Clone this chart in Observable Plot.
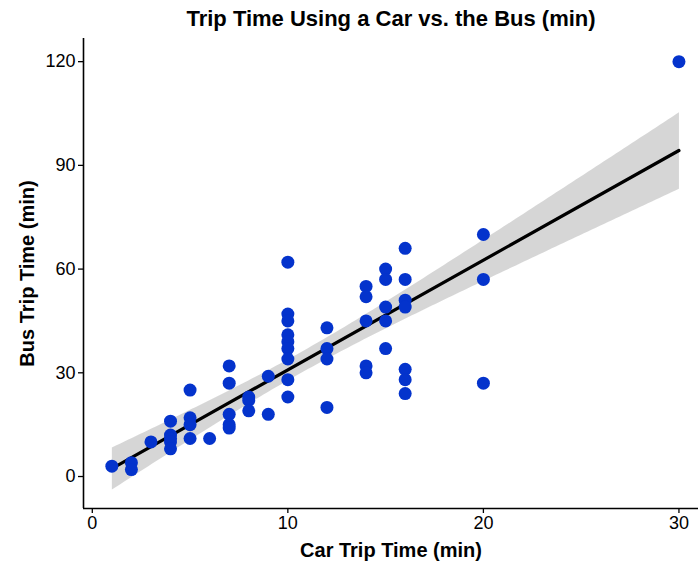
<!DOCTYPE html>
<html>
<head>
<meta charset="utf-8">
<script src="https://cdn.jsdelivr.net/npm/d3@7"></script>
<script src="https://cdn.jsdelivr.net/npm/@observablehq/plot@0.6"></script>
<style>
  html, body { margin: 0; padding: 0; background: #fff; }
  svg { display: block; }
</style>
</head>
<body>
<div id="chart"></div>
<script>
const carTime = [
  1,
  2, 2,
  3,
  4, 4, 4, 4, 4,
  5, 5, 5, 5,
  6,
  7, 7, 7, 7, 7,
  8, 8, 8,
  9, 9,
  10, 10, 10, 10, 10, 10, 10, 10, 10,
  12, 12, 12, 12,
  14, 14, 14, 14, 14,
  15, 15, 15, 15, 15,
  16, 16, 16, 16, 16, 16, 16,
  20, 20, 20,
  30
];
const busTime = [
  3,
  4, 2,
  10,
  16, 12, 11, 10, 8,
  25, 17, 15, 11,
  11,
  32, 27, 18, 15, 14,
  23, 22, 19,
  29, 18,
  62, 47, 45, 41, 39, 37, 34, 28, 23,
  43, 37, 34, 20,
  55, 52, 45, 32, 30,
  60, 57, 49, 45, 37,
  66, 57, 51, 49, 31, 28, 24,
  70, 57, 27,
  120
];
const xTicks = [0, 10, 20, 30];
const yTicks = [0, 30, 60, 90, 120];
const titleText = "Trip Time Using a Car vs. the Bus (min)";
const xLabel = "Car Trip Time (min)";
const yLabel = "Bus Trip Time (min)";

const data = carTime.map((c, i) => ({car: c, bus: busTime[i]}));

const xDomain = [-0.45, 31.0];
const yDomain = [-9.25, 126.7];

const chart = Plot.plot({
  width: 698,
  height: 562,
  marginTop: 38,
  marginBottom: 54,
  marginLeft: 83,
  marginRight: 0,
  style: {fontFamily: "'Liberation Sans', Arial, Helvetica, sans-serif", background: "#fff"},
  x: {domain: xDomain},
  y: {domain: yDomain},
  marks: [
    Plot.linearRegressionY(data, {
      x: "car", y: "bus",
      ci: 0.95,
      stroke: "black",
      strokeWidth: 3.2,
      fill: "#999999",
      fillOpacity: 0.4
    }),
    Plot.dot(data, {x: "car", y: "bus", r: 6.5, fill: "#0433cc", stroke: "none"}),
    Plot.axisX({ticks: xTicks, tickSize: 5, tickPadding: 3, fontSize: 18, label: null, stroke: "black", strokeWidth: 1.3, color: "black"}),
    Plot.axisY({ticks: yTicks, tickSize: 5, tickPadding: 3, fontSize: 18, label: null, stroke: "black", strokeWidth: 1.3, color: "black"}),
    Plot.ruleX([xDomain[0]], {stroke: "black", strokeWidth: 1.6}),
    Plot.ruleY([yDomain[0]], {stroke: "black", strokeWidth: 1.6}),
    Plot.text([titleText], {frameAnchor: "top", dy: -20, lineAnchor: "middle", textAnchor: "middle", fontSize: 22, fontWeight: "bold", fill: "black"}),
    Plot.text([xLabel], {frameAnchor: "bottom", dy: 42, lineAnchor: "middle", textAnchor: "middle", fontSize: 20, fontWeight: "bold", fill: "black"}),
    Plot.text([yLabel], {frameAnchor: "left", dx: -56, rotate: -90, lineAnchor: "middle", textAnchor: "middle", fontSize: 20, fontWeight: "bold", fill: "black"})
  ]
});
document.getElementById("chart").appendChild(chart);
</script>
</body>
</html>
